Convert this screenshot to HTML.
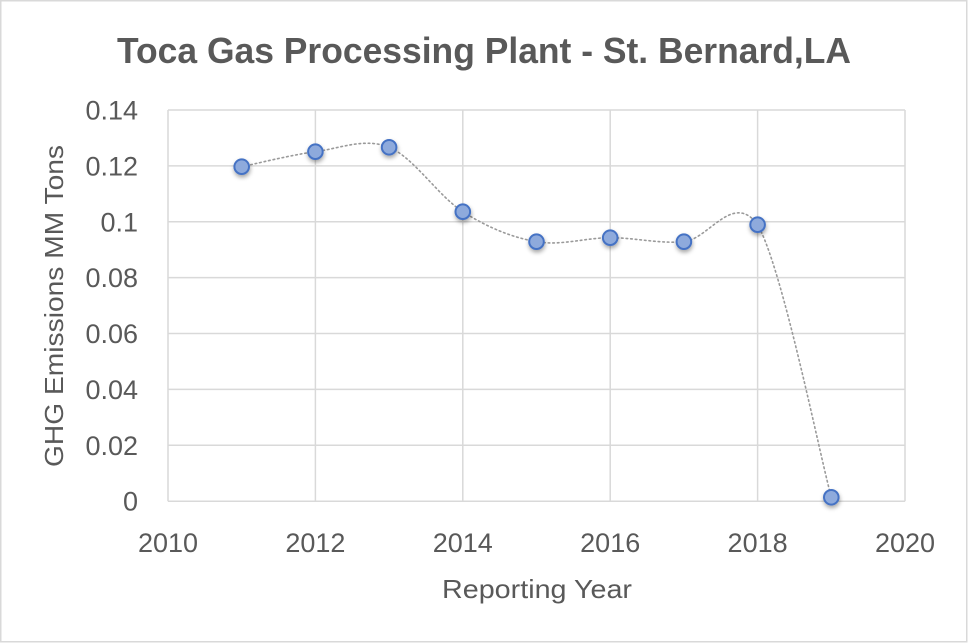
<!DOCTYPE html>
<html>
<head>
<meta charset="utf-8">
<style>
  html, body { margin: 0; padding: 0; background: #ffffff; }
  body { width: 968px; height: 643px; overflow: hidden; }
  svg { display: block; }
  text { font-family: "Liberation Sans", "DejaVu Sans", sans-serif; fill: #595959; }
</style>
</head>
<body>
<svg width="968" height="643" viewBox="0 0 968 643" xmlns="http://www.w3.org/2000/svg">
  <defs>
    <filter id="sh" x="-50%" y="-50%" width="200%" height="200%">
      <feDropShadow dx="0.5" dy="2.5" stdDeviation="2" flood-color="#000" flood-opacity="0.35"/>
    </filter>
  </defs>
  <rect x="0" y="0" width="968" height="643" fill="#ffffff"/>
  <rect x="0.75" y="0.75" width="966" height="641" fill="none" stroke="#d9d9d9" stroke-width="1.5"/>

  <!-- Title -->
  <text x="117" y="63" font-size="36" font-weight="bold" textLength="734" lengthAdjust="spacingAndGlyphs">Toca Gas Processing Plant - St. Bernard,LA</text>

  <!-- Gridlines -->
  <g stroke="#d9d9d9" stroke-width="1.5" fill="none">
    <line x1="168" y1="110" x2="905" y2="110"/>
    <line x1="168" y1="165.9" x2="905" y2="165.9"/>
    <line x1="168" y1="221.8" x2="905" y2="221.8"/>
    <line x1="168" y1="277.6" x2="905" y2="277.6"/>
    <line x1="168" y1="333.5" x2="905" y2="333.5"/>
    <line x1="168" y1="389.4" x2="905" y2="389.4"/>
    <line x1="168" y1="445.3" x2="905" y2="445.3"/>
    <line x1="168" y1="501.2" x2="905" y2="501.2"/>
    <line x1="168" y1="110" x2="168" y2="501.2"/>
    <line x1="315.4" y1="110" x2="315.4" y2="501.2"/>
    <line x1="462.8" y1="110" x2="462.8" y2="501.2"/>
    <line x1="610.2" y1="110" x2="610.2" y2="501.2"/>
    <line x1="757.6" y1="110" x2="757.6" y2="501.2"/>
    <line x1="905" y1="110" x2="905" y2="501.2"/>
  </g>

  <!-- Y tick labels -->
  <g font-size="27" text-anchor="end">
    <text x="138" y="119.5">0.14</text>
    <text x="138" y="175.4">0.12</text>
    <text x="138" y="231.3">0.1</text>
    <text x="138" y="287.1">0.08</text>
    <text x="138" y="343">0.06</text>
    <text x="138" y="398.9">0.04</text>
    <text x="138" y="454.8">0.02</text>
    <text x="138" y="510.7">0</text>
  </g>

  <!-- X tick labels -->
  <g font-size="27" text-anchor="middle">
    <text x="168" y="552">2010</text>
    <text x="315.4" y="552">2012</text>
    <text x="462.8" y="552">2014</text>
    <text x="610.2" y="552">2016</text>
    <text x="757.6" y="552">2018</text>
    <text x="905" y="552">2020</text>
  </g>

  <!-- Axis titles -->
  <text x="442" y="598" font-size="26" textLength="190" lengthAdjust="spacingAndGlyphs">Reporting Year</text>
  <text transform="translate(63,467) rotate(-90)" x="0" y="0" font-size="26" textLength="322" lengthAdjust="spacingAndGlyphs">GHG Emissions MM Tons</text>

  <!-- Smoothed dotted line -->
  <path d="M 241.7 166.7
           C 254 164.2, 291.1 154.9, 315.4 151.7
           C 340 148.5, 364.5 137.3, 389.1 147.3
           C 413.7 157.3, 438.2 196, 462.8 211.7
           C 487.4 227.4, 511.9 237.4, 536.5 241.7
           C 561.1 246, 585.6 237.7, 610.2 237.7
           C 634.8 237.7, 659.3 243.9, 683.9 241.7
           C 708.5 239.5, 733 191, 757.6 224.7
           C 782.2 267.3, 819 451.9, 831.3 497.3"
        fill="none" stroke="#9a9a9a" stroke-width="1.6" stroke-dasharray="1.6 3" stroke-linecap="round"/>

  <!-- Markers -->
  <g fill="#8eaadc" stroke="#4472c4" stroke-width="2" filter="url(#sh)">
    <circle cx="241.7" cy="166.7" r="7.3"/>
    <circle cx="315.4" cy="151.7" r="7.3"/>
    <circle cx="389.1" cy="147.3" r="7.3"/>
    <circle cx="462.8" cy="211.7" r="7.3"/>
    <circle cx="536.5" cy="241.7" r="7.3"/>
    <circle cx="610.2" cy="237.7" r="7.3"/>
    <circle cx="683.9" cy="241.7" r="7.3"/>
    <circle cx="757.6" cy="224.7" r="7.3"/>
    <circle cx="831.3" cy="497.3" r="7.3"/>
  </g>
</svg>
</body>
</html>
